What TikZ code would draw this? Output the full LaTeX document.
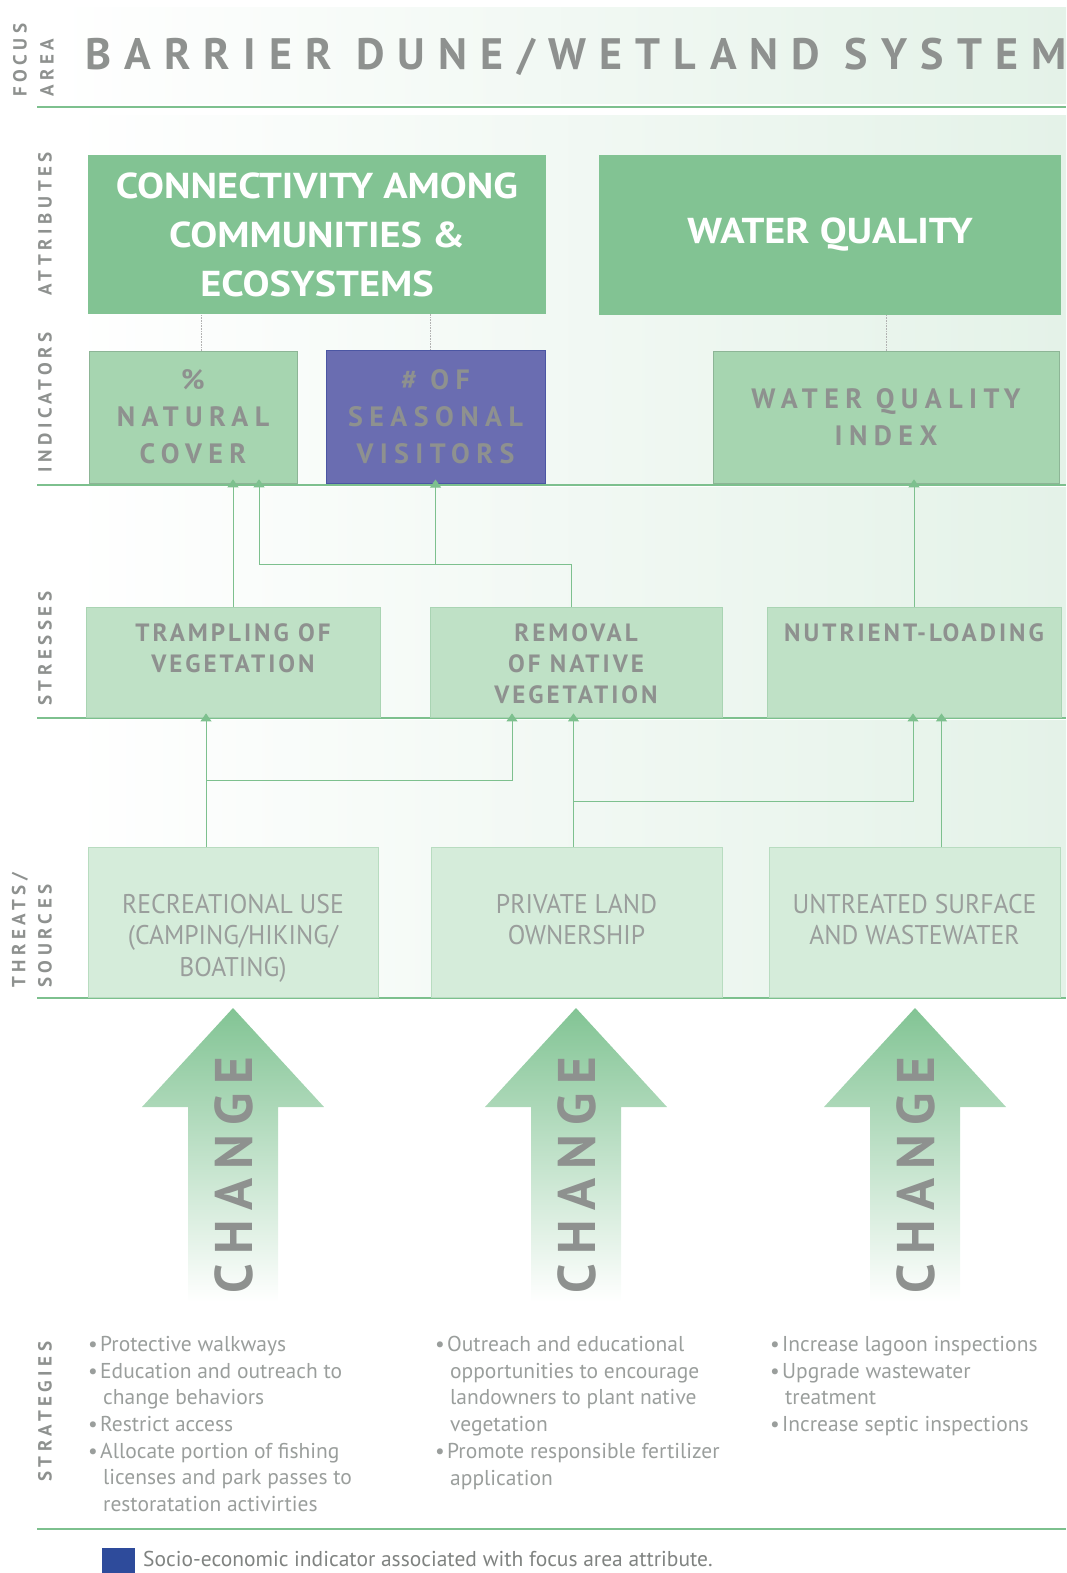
\documentclass[tikz,border=0pt]{standalone}
\usepackage{fontspec}
\setmainfont{PT Sans}
\newfontfamily\semifont[FakeStretch=0.95]{PT Sans}
\newfontfamily\widefont[FakeStretch=1.12]{PT Sans}
\usetikzlibrary{positioning,arrows.meta,calc}

\definecolor{txtgrey}{HTML}{8E918F}
\definecolor{lightgrey}{HTML}{9A9E9C}
\definecolor{linegreen}{HTML}{7DC08E}
\definecolor{attrgreen}{HTML}{82C393}
\definecolor{indgreen}{HTML}{A6D5B0}
\definecolor{stressgreen}{HTML}{BFE1C6}
\definecolor{stressedge}{HTML}{A9D4B3}
\definecolor{threatgreen}{HTML}{D5ECDA}
\definecolor{threatedge}{HTML}{B8DCC0}
\definecolor{seasonal}{HTML}{6A6DB1}
\definecolor{seasonaledge}{HTML}{4B56A3}
\definecolor{legendblue}{HTML}{2E4B9B}
\definecolor{bandgreen}{HTML}{E4F2E8}
\definecolor{changegreen}{HTML}{82C494}

\newcommand\bul{\makebox[12pt][l]{\textbullet}}
\newcommand\hang{\hspace*{15pt}}

\begin{document}
\begin{tikzpicture}[x=1pt, y=-1pt,
    layerline/.style={draw=linegreen, line width=2pt},
    rowlabel/.style={rotate=90, text=txtgrey, inner sep=0pt, anchor=west,
        font=\fontsize{19}{19}\selectfont\bfseries\addfontfeatures{LetterSpace=24}},
    attrbox/.style={fill=attrgreen, text=white, align=center, inner sep=0pt,
        font=\widefont\fontsize{36}{49}\selectfont\bfseries},
    indbox/.style={fill=indgreen, draw=indgreen!85!black, line width=0.6pt,
        text=txtgrey, align=center, inner sep=0pt,
        font=\fontsize{28}{37}\selectfont\bfseries\addfontfeatures{LetterSpace=23}},
    stressbox/.style={fill=stressgreen, draw=stressedge, line width=0.8pt, inner sep=0pt},
    stresstxt/.style={text=txtgrey, align=center, inner sep=0pt,
        font=\fontsize{25}{31}\selectfont\bfseries\addfontfeatures{LetterSpace=12}},
    threatbox/.style={fill=threatgreen, draw=threatedge, line width=0.8pt, inner sep=0pt},
    threattxt/.style={text=lightgrey, align=center, inner sep=0pt,
        font=\semifont\fontsize{27}{31.5}\selectfont},
    link/.style={draw=linegreen, line width=0.9pt, -{Triangle[width=11pt,length=8pt]}, shorten >=-4pt},
    dotlink/.style={draw=gray!60, line width=0.6pt, densely dotted},
    changetxt/.style={rotate=90, text=txtgrey, inner sep=0pt,
        font=\fontsize{53}{53}\selectfont\bfseries\addfontfeatures{LetterSpace=17}},
    strat/.style={text=lightgrey, align=left, inner sep=0pt, anchor=north west,
        font=\fontsize{21.5}{26.7}\selectfont}]
\useasboundingbox (0,0) rectangle (1066,1573);

% soft bands behind each row
\shade[left color=white, right color=bandgreen] (55,8) rectangle (1066,104);
\shade[left color=white, right color=bandgreen] (70,116) rectangle (1066,484);
\shade[left color=white, right color=bandgreen] (70,487) rectangle (1066,716);
\shade[left color=white, right color=bandgreen] (70,720) rectangle (1066,996);

% row rules
\foreach \ly in {107,485,718,998,1529}
    \draw[layerline] (37,\ly) -- (1066,\ly);

% row labels
\node[rowlabel] (lbfocus) at (20,97) {FOCUS};
\node[rowlabel] (lbarea) at (47,97) {AREA};
\node[rowlabel] (lbattr) at (45,296) {ATTRIBUTES};
\node[rowlabel] (lbind) at (45,473) {INDICATORS};
\node[rowlabel] (lbstress) at (45,706) {STRESSES};
\node[rowlabel] (lbthreat) at (20,988) {THREATS/};
\node[rowlabel] (lbsource) at (45,988) {SOURCES};
\node[rowlabel] (lbstrat) at (45,1482) {STRATEGIES};

% focus area
\node[anchor=west, text=txtgrey, inner sep=0pt,
    font=\fontsize{44}{44}\selectfont\bfseries\addfontfeatures{LetterSpace=30}]
    (focus) at (85,57) {BARRIER DUNE/WETLAND SYSTEM};

% attributes
\node[attrbox, minimum width=458pt, minimum height=159pt] (conn) at (317,234.5)
    {CONNECTIVITY AMONG\\COMMUNITIES \&\\ECOSYSTEMS};
\node[attrbox, minimum width=462pt, minimum height=160pt] (wq) at (830,235)
    {WATER QUALITY};

% indicators
\node[indbox, minimum width=208pt, minimum height=132pt] (natcover) at (193,417)
    {\%\\NATURAL\\COVER};
\node[indbox, fill=seasonal, draw=seasonaledge, line width=1pt,
    minimum width=219pt, minimum height=133pt] (visitors) at (435.5,416.5)
    {\# OF\\SEASONAL\\VISITORS};
\node[indbox, minimum width=346pt, minimum height=132pt] (wqindex) at (886,417)
    {WATER QUALITY\\INDEX};

\draw[dotlink] ([xshift=8pt]natcover.north) -- ([xshift=8pt]natcover.north |- conn.south);
\draw[dotlink] ([xshift=-5pt]visitors.north) -- ([xshift=-5pt]visitors.north |- conn.south);
\draw[dotlink] (wqindex.north) -- (wqindex.north |- wq.south);

% stresses
\node[stressbox, minimum width=294pt, minimum height=110pt] (tramp) at (233,662) {};
\node[stressbox, minimum width=292pt, minimum height=110pt] (removal) at (576,662) {};
\node[stressbox, minimum width=294pt, minimum height=110pt] (nutrient) at (914,662) {};
\node[stresstxt, below=17pt of tramp.north] (tramptxt) {TRAMPLING OF\\VEGETATION};
\node[stresstxt, below=17pt of removal.north] (removaltxt) {REMOVAL\\OF NATIVE\\VEGETATION};
\node[stresstxt, below=17pt of nutrient.north] (nutrienttxt) {NUTRIENT-LOADING};

% threats / sources
\node[threatbox, minimum width=290pt, minimum height=150pt] (rec) at (233,922) {};
\node[threatbox, minimum width=291pt, minimum height=150pt] (private) at (576.5,922) {};
\node[threatbox, minimum width=291pt, minimum height=150pt] (untreated) at (914.5,922) {};
\node[threattxt, below=47pt of rec.north] (rectxt) {RECREATIONAL USE\\(CAMPING/HIKING/\\BOATING)};
\node[threattxt, below=47pt of private.north] (privatetxt) {PRIVATE LAND\\OWNERSHIP};
\node[threattxt, below=47pt of untreated.north] (untreatedtxt) {UNTREATED SURFACE\\AND WASTEWATER};

% stresses -> indicators
\draw[link] (tramp.north) -- (tramp.north |- natcover.south);
\coordinate (rj) at ([xshift=-5pt,yshift=42pt]removal.north);
\draw[link] ([xshift=-5pt]removal.north) -- (rj) -| ([xshift=66pt]natcover.south);
\draw[link] (rj -| visitors.south) -- (visitors.south);
\draw[link] (nutrient.north) -- (nutrient.north |- wqindex.south);

% threats -> stresses
\coordinate (recj) at ([xshift=-27pt,yshift=66pt]rec.north);
\draw[link] ([xshift=-27pt]rec.north) -- ([xshift=-27pt]rec.north |- tramp.south);
\draw[link] (recj) -| ([xshift=-64pt]removal.south);
\coordinate (prj) at ([xshift=-3pt,yshift=45pt]private.north);
\draw[link] ([xshift=-3pt]private.north) -- ([xshift=-3pt]private.north |- removal.south);
\draw[link] (prj) -| ([xshift=-1pt]nutrient.south);
\draw[link] ([xshift=27pt]untreated.north) -- ([xshift=27pt]untreated.north |- nutrient.south);

% change arrows
\foreach \cx/\n in {233/a,576/b,915/c}{
    \shade[top color=changegreen, bottom color=white]
        (\cx,1008) -- (\cx+91,1107) -- (\cx+45,1107) -- (\cx+45,1302)
        -- (\cx-45,1302) -- (\cx-45,1107) -- (\cx-91,1107) -- cycle;
    \node[changetxt] (change\n) at (\cx+1,1175) {CHANGE};
}

% strategies
\node[strat] (strata) at (88,1336) {\bul Protective walkways\\
    \bul Education and outreach to\\ \hang change behaviors\\
    \bul Restrict access\\
    \bul Allocate portion of fishing\\ \hang licenses and park passes to\\
    \hang restoratation activirties};
\node[strat] (stratb) at (435,1336) {\bul Outreach and educational\\
    \hang opportunities to encourage\\ \hang landowners to plant native\\
    \hang vegetation\\
    \bul Promote responsible fertilizer\\ \hang application};
\node[strat] (stratc) at (770,1336) {\bul Increase lagoon inspections\\
    \bul Upgrade wastewater\\ \hang treatment\\
    \bul Increase septic inspections};

% key
\node[fill=legendblue, minimum width=33pt, minimum height=30pt, inner sep=0pt,
    anchor=north west] (key) at (102,1548) {};
\node[anchor=base west, text=txtgrey!90!black, inner sep=0pt,
    font=\fontsize{21.5}{21.5}\selectfont] (keytxt) at (143,1566)
    {Socio-economic indicator associated with focus area attribute.};
\end{tikzpicture}
\end{document}
